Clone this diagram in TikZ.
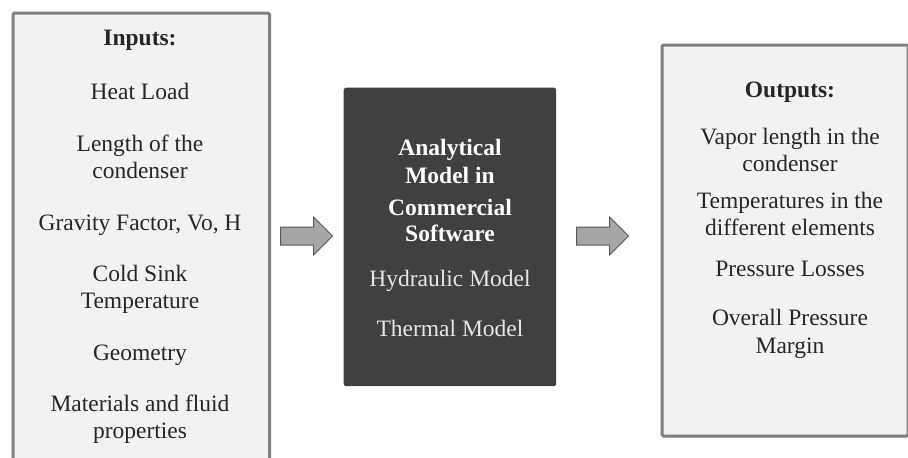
\documentclass[tikz,border=0pt]{standalone}
\usepackage{fontspec}
\setmainfont{Liberation Serif}
\usetikzlibrary{calc}
\definecolor{panelfill}{HTML}{F2F2F2}
\definecolor{panelline}{HTML}{7F7F7F}
\definecolor{txtdark}{HTML}{262626}
\definecolor{midfill}{HTML}{404040}
\definecolor{midtxt}{HTML}{E6E6E6}
\definecolor{arrfill}{HTML}{A6A6A6}
\definecolor{arrline}{HTML}{595959}
\begin{document}
\begin{tikzpicture}[x=1pt,y=-1pt,
  panel/.style={draw=panelline, line width=3pt, fill=panelfill, rounded corners=1.5pt, inner sep=0pt, anchor=north west},
  midbox/.style={fill=midfill, rounded corners=2.5pt, inner sep=0pt, anchor=north west},
  txt/.style={anchor=base, inner sep=0pt, text=txtdark, font=\fontsize{23.5}{27}\selectfont},
  wtxt/.style={txt, text=midtxt},
  btxt/.style={txt, text=white, font=\fontsize{23.5}{27}\selectfont\bfseries},
  blockarrow/.style={draw=arrline, fill=arrfill, line width=1pt, line join=miter}]
\clip (0,0) rectangle (908,458);
\fill[white] (0,0) rectangle (908,458);
% boxes
\node[panel, minimum width=256.5pt, minimum height=470pt] (in) at (11.5,11.5) {};
\node[midbox, minimum width=212.5pt, minimum height=298.5pt] (mid) at (343.5,87.5) {};
\node[panel, minimum width=246pt, minimum height=391pt] (out) at (660.5,43.5) {};
% inputs text
\node[txt, font=\fontsize{23.5}{27}\selectfont\bfseries] (i0) at (140,45) {Inputs:};
\node[txt] (i1) at (140,99) {Heat Load};
\node[txt] (i2) at (140,151) {Length of the};
\node[txt] (i3) at (140,178) {condenser};
\node[txt] (i4) at (140,230) {Gravity Factor, Vo, H};
\node[txt] (i5) at (140,281) {Cold Sink};
\node[txt] (i6) at (140,308) {Temperature};
\node[txt] (i7) at (140,360) {Geometry};
\node[txt] (i8) at (140,411) {Materials and fluid};
\node[txt] (i9) at (140,438) {properties};
% middle text
\node[btxt] (m1) at (450,155) {Analytical};
\node[btxt] (m2) at (450,183) {Model in};
\node[btxt] (m3) at (450,215) {Commercial};
\node[btxt] (m4) at (450,241) {Software};
\node[wtxt] (m5) at (450,286) {Hydraulic Model};
\node[wtxt] (m6) at (450,336) {Thermal Model};
% outputs text
\node[txt, font=\fontsize{23.5}{27}\selectfont\bfseries] (o0) at (790,97) {Outputs:};
\node[txt] (o1) at (790,144) {Vapor length in the};
\node[txt] (o2) at (790,171) {condenser};
\node[txt] (o3) at (790,208) {Temperatures in the};
\node[txt] (o4) at (790,235) {different elements};
\node[txt] (o5) at (790,276) {Pressure Losses};
\node[txt] (o6) at (790,325) {Overall Pressure};
\node[txt] (o7) at (790,353) {Margin};
% block arrows
\coordinate (a1) at (280.5,236);
\coordinate (a2) at (576.5,236);
\foreach \a in {a1,a2}{
  \draw[blockarrow] ($(\a)+(0,-9)$) -- ++(33,0) -- ++(0,-10) -- ++(19,19) -- ++(-19,19) -- ++(0,-10) -- ++(-33,0) -- cycle;
}
\end{tikzpicture}
\end{document}
